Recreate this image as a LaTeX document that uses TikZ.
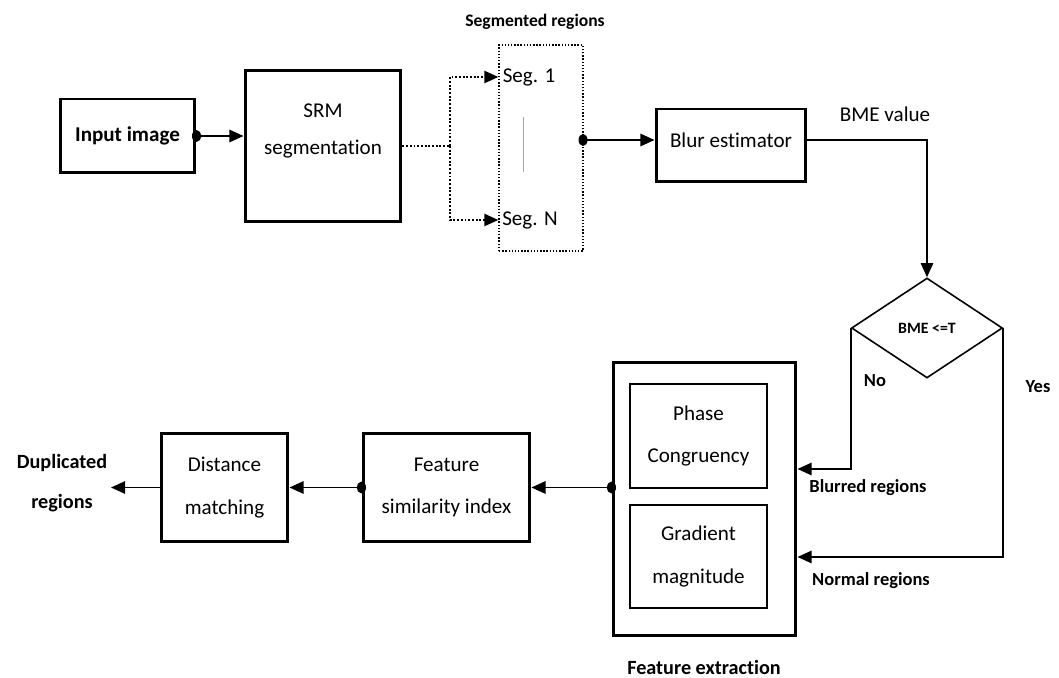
\documentclass[tikz,border=0pt]{standalone}
\usepackage{fontspec}
\setmainfont{Carlito}[Ligatures=NoCommon]
\usepackage{tikz}
\usetikzlibrary{arrows.meta,shapes.geometric}
\tikzset{
  thickbox/.style={draw,line width=1.7pt,align=center,inner sep=0pt,font=\fontsize{12}{24}\selectfont},
  thinbox/.style={draw,line width=0.9pt,align=center,inner sep=0pt,font=\fontsize{12}{24}\selectfont},
  conn/.style={line width=1.1pt,->,>={Triangle[length=8pt,width=7pt]}},
  dotconn/.style={conn,densely dotted,line width=1pt},
  lbl/.style={font=\bfseries\fontsize{10.5}{13}\selectfont},
  boldtxt/.style={font=\bfseries\fontsize{11.5}{23}\selectfont,align=center},
  plain/.style={font=\fontsize{12}{21}\selectfont,align=center},
  dot/.style={fill=black}
}

\begin{document}
\begin{tikzpicture}[x=0.02cm,y=-0.02cm]
        \useasboundingbox (0,0) rectangle (1059,678);
        % top row
        \node[thickbox,minimum width=2.7cm,minimum height=1.48cm,font=\bfseries\fontsize{12}{24}\selectfont] (input) at (127.5,136) {Input image};
        \node[thickbox,minimum width=3.12cm,minimum height=3.04cm] (srm) at (323,146) {};
        \node[plain] (srmtxt) at (323,131) {SRM\\segmentation};
        \node[draw,densely dotted,line width=0.8pt,minimum width=1.68cm,minimum height=4.12cm,inner sep=0pt] (seg) at (541,148) {};
        \node[plain] (seg1) at (529,77) {Seg. 1};
        \node[plain] (segN) at (530,220) {Seg. N};
        \node[boldtxt,font=\bfseries\fontsize{10}{12}\selectfont] (segtitle) at (535,22) {Segmented regions};
        \draw[gray!70,line width=0.5pt] (523,117) -- (523,172);
        \node[thickbox,minimum width=3cm,minimum height=1.46cm] (blur) at (731,145.5) {};
        \node[plain] (blurtxt) at (731,140) {Blur estimator};
        \node[plain] (bmeval) at (885,114) {BME value};
        \node[draw,diamond,line width=0.9pt,minimum width=3.02cm,minimum height=2cm,inner sep=0pt,font=\bfseries\fontsize{9}{11}\selectfont] (dec) at (927,328) {BME <=T};
        % bottom row
        \node[thickbox,minimum width=3.66cm,minimum height=5.48cm] (fe) at (704.5,499) {};
        \node[thinbox,minimum width=2.74cm,minimum height=2.08cm] (phase) at (698.5,436) {Phase\\Congruency};
        \node[thinbox,minimum width=2.74cm,minimum height=2.06cm] (grad) at (698.5,556.5) {Gradient\\magnitude};
        \node[boldtxt] (fetxt) at (704,667) {Feature extraction};
        \node[thickbox,minimum width=3.34cm,minimum height=2.18cm] (fs) at (446.5,487.5) {Feature\\similarity index};
        \node[thickbox,minimum width=2.54cm,minimum height=2.18cm] (dm) at (224.5,487.5) {Distance\\matching};
        \node[boldtxt] (dup) at (62,483) {Duplicated\\regions};
        \coordinate (dupin) at (111,487.5);
        \node[lbl] (no) at (875,381) {No};
        \node[lbl] (yes) at (1038,387) {Yes};
        \node[lbl] (blurred) at (868,488) {Blurred regions};
        \node[lbl] (normal) at (871,581) {Normal regions};

        % connectors
        \draw[conn] (input.east) -- (input.east -| srm.west);
        \fill[dot] (input.east) ellipse (0.09cm and 0.12cm);
        \coordinate (split) at (450,146);
        \draw[dotconn] (srm.east) -- (split) |- (seg.west |- seg1);
        \draw[dotconn] (split) |- (seg.west |- segN);
        \coordinate (segout) at (583,140);
        \draw[conn] (segout) -- (segout -| blur.west);
        \fill[dot] (segout) ellipse (0.09cm and 0.12cm);
        \draw[conn,line width=1pt] (segout -| blur.east) -| (dec.north);
        \draw[conn,line width=1pt] (dec.west) |- ([yshift=0.6cm]fe.east);
        \draw[conn,line width=1pt] (dec.east) |- ([yshift=-1.16cm]fe.east);
        \draw[conn] (fs.east -| fe.west) -- (fs.east);
        \fill[dot] (fs.east -| fe.west) ellipse (0.09cm and 0.12cm);
        \draw[conn] (fs.west) -- (dm.east);
        \fill[dot] (fs.west) ellipse (0.09cm and 0.12cm);
        \draw[conn] (dm.west) -- (dupin);
\end{tikzpicture}
\end{document}
